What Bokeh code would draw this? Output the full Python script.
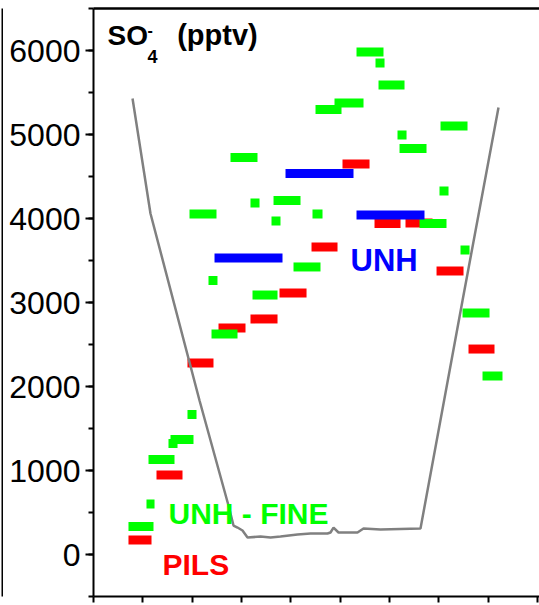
from bokeh.plotting import figure
from bokeh.layouts import row
from bokeh.models import (Range1d, SingleIntervalTicker, FixedTicker, LinearAxis,
                          CustomLabelingPolicy)
from bokeh.core.properties import value
from bokeh.embed import file_html
from bokeh.resources import INLINE

# ---------------- data (time in minutes, SO4- in pptv) ----------------
# UNH - FINE (green): sample start, sample end, concentration
fine_start = [7.09, 10.74, 11.15, 15.20, 15.61, 19.05, 19.46, 23.31, 23.92, 27.77,
              31.82, 32.23, 36.08, 36.49, 40.54, 44.39, 45.00, 48.85, 53.31, 57.16,
              57.77, 61.62, 62.03, 66.08, 70.13, 70.34, 74.39, 74.80, 78.85]
fine_end = [12.16, 12.37, 16.42, 17.03, 20.27, 20.88, 24.93, 25.13, 29.19, 33.24,
            33.65, 37.30, 37.90, 41.96, 46.01, 46.42, 50.27, 54.73, 58.78, 58.99,
            63.04, 63.45, 67.50, 71.55, 71.96, 75.81, 76.22, 80.27, 82.90]
fine_so4 = [333, 601, 1131, 1321, 1369, 1667, 4054, 3262, 2625, 4726,
            4185, 3089, 3970, 4214, 3423, 4054, 5298, 5375, 5982, 5851,
            5589, 4994, 4833, 3940, 4327, 5101, 3625, 2875, 2125]

# PILS (red)
pils_start = [7.09, 12.77, 19.05, 25.34, 31.82, 37.70, 44.19, 50.47, 56.96, 63.24, 69.53, 76.01]
pils_end = [11.76, 18.04, 24.32, 30.81, 37.30, 43.18, 49.46, 55.95, 62.23, 68.72, 75.00, 81.28]
pils_so4 = [173, 946, 2280, 2696, 2804, 3113, 3661, 4649, 3940, 3946, 3375, 2446]

# UNH (blue)
unh_start = [24.53, 38.92, 53.31]
unh_end = [38.31, 52.70, 67.09]
unh_so4 = [3530, 4536, 4042]

# flight profile (grey), drawn on the same vertical scale
prof_t = [7.91, 11.55, 21.49, 27.36, 28.38, 29.19, 30.20, 31.22, 33.85, 35.88,
          37.90, 41.35, 43.99, 47.43, 48.04, 48.65, 49.66, 53.51, 54.73, 58.17,
          66.28, 74.80, 82.09]
prof_v = [5429, 4060, 1833, 583, 345, 321, 286, 202, 214, 202,
          214, 238, 250, 250, 262, 321, 262, 262, 310, 298,
          310, 3024, 5321]

y_tick_interval = 1000
x_tick_interval = 10

FONT = "Liberation Sans"

# ---------------- neighbouring panel edge (far left) ----------------
edge = figure(width=3, height=605, x_range=Range1d(0, 1), y_range=Range1d(-500, 6500),
              output_backend="svg", toolbar_location=None,
              min_border_left=1, min_border_right=0, min_border_top=8, min_border_bottom=9,
              x_axis_location=None, y_axis_location=None, outline_line_color=None,
              background_fill_color="black", border_fill_color="white")
edge.grid.visible = False

# ---------------- main figure ----------------
p = figure(width=536, height=605, x_range=Range1d(0, 90.4), y_range=Range1d(-500, 6500),
           output_backend="svg", toolbar_location=None,
           min_border_left=90, min_border_right=0, min_border_top=8, min_border_bottom=9,
           outline_line_color=None, background_fill_color="white",
           border_fill_color="white")
p.grid.visible = False

# left axis
ya = p.yaxis[0]
ya.ticker = SingleIntervalTicker(interval=y_tick_interval, num_minor_ticks=2)
ya.axis_line_width = 2
ya.axis_line_color = "black"
ya.major_tick_line_width = 2
ya.minor_tick_line_width = 2
ya.major_tick_out = 8
ya.major_tick_in = 0
ya.minor_tick_out = 5
ya.minor_tick_in = 0
ya.major_label_standoff = 5
ya.major_label_text_font = FONT
ya.major_label_text_font_size = "32px"
ya.major_label_text_color = "black"

# bottom axis (ticks only)
xa = p.xaxis[0]
xa.ticker = SingleIntervalTicker(interval=x_tick_interval, num_minor_ticks=0)
xa.axis_line_width = 2
xa.major_tick_line_width = 2
xa.major_tick_out = 6
xa.major_tick_in = 0
xa.minor_tick_line_color = None
xa.major_label_text_font_size = "0px"
xa.major_label_standoff = 0
xa.major_label_policy = CustomLabelingPolicy(code="""
try { for (let i = 0; i < indices.size; i++) { indices.unset(i) } } catch (e) {}
return indices
""")

# top frame line
top = LinearAxis(ticker=FixedTicker(ticks=[]), axis_line_width=2.5,
                 major_label_text_font_size="0px", major_label_standoff=0,
                 major_tick_out=0, minor_tick_out=0)
p.add_layout(top, "above")

# bars
bar_h = 9
def bars(start, end, vals, color):
    p.rect(x=[(a + b) / 2 for a, b in zip(start, end)], y=vals,
           width=[b - a for a, b in zip(start, end)], height=bar_h,
           height_units="screen", fill_color=color, line_color=None)

bars(pils_start, pils_end, pils_so4, "#ff0000")
bars(fine_start, fine_end, fine_so4, "#00ff00")
bars(unh_start, unh_end, unh_so4, "#0000ff")

# profile line
p.line(prof_t, prof_v, line_color="#808080", line_width=2.5)

# texts
def txt(x, y, s, color, size, style="bold"):
    p.text(x=[x], y=[y], text=[s], text_color=color, text_font=value(FONT),
           text_font_size=size, text_font_style=style,
           text_baseline="alphabetic", text_align="left")

txt(2.84, 6173, "SO", "black", "28px")
txt(10.95, 6250, "-", "black", "16px")
txt(10.95, 5933, "4", "black", "18px")
txt(16.96, 6179, "(pptv)", "black", "29px")
txt(52.09, 3496, "UNH", "#0000ff", "31px")
txt(15.20, 492, "UNH - FINE", "#00ff00", "30px")
txt(13.99, -115, "PILS", "#ff0000", "30px")

layout = row(edge, p, spacing=0)
open("out.html", "w").write(file_html(layout, INLINE))
